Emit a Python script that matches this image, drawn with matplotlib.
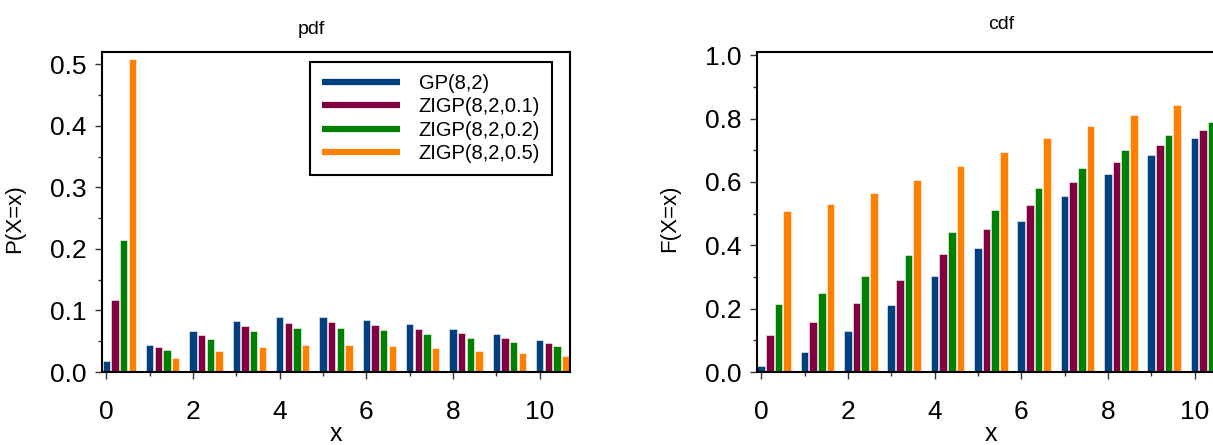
#!/usr/bin/env python3
"""Bar charts of the GP / ZIGP probability and cumulative distribution functions."""

import matplotlib
matplotlib.use("Agg")
import matplotlib.pyplot as plt
import matplotlib.ticker as mticker
from matplotlib.lines import Line2D
import numpy as np

X_VALUES = list(range(11))
SERIES = ["GP(8,2)", "ZIGP(8,2,0.1)", "ZIGP(8,2,0.2)", "ZIGP(8,2,0.5)"]
COLORS = ["#00407f", "#800040", "#008000", "#ff8000"]

PDF_GP = [0.0183, 0.0444, 0.0674, 0.0824, 0.0892, 0.0895, 0.0851, 0.0781, 0.0698, 0.0611, 0.0527]
PDF_ZIGP_01 = [0.1165, 0.0400, 0.0606, 0.0742, 0.0803, 0.0805, 0.0766, 0.0703, 0.0628, 0.0550, 0.0474]
PDF_ZIGP_02 = [0.2147, 0.0355, 0.0539, 0.0659, 0.0714, 0.0716, 0.0681, 0.0625, 0.0558, 0.0489, 0.0422]
PDF_ZIGP_05 = [0.5092, 0.0222, 0.0337, 0.0412, 0.0446, 0.0447, 0.0426, 0.0391, 0.0349, 0.0306, 0.0264]

CDF_GP = [0.0183, 0.0628, 0.1301, 0.2126, 0.3018, 0.3913, 0.4764, 0.5545, 0.6243, 0.6854, 0.7381]
CDF_ZIGP_01 = [0.1165, 0.1565, 0.2171, 0.2913, 0.3716, 0.4522, 0.5288, 0.5991, 0.6619, 0.7169, 0.7643]
CDF_ZIGP_02 = [0.2147, 0.2502, 0.3041, 0.3701, 0.4414, 0.5130, 0.5811, 0.6436, 0.6994, 0.7483, 0.7905]
CDF_ZIGP_05 = [0.5092, 0.5314, 0.5651, 0.6063, 0.6509, 0.6957, 0.7382, 0.7773, 0.8122, 0.8427, 0.8691]

plt.rcParams.update({
    "font.family": ["Liberation Sans", "DejaVu Sans"],
    "axes.linewidth": 1.5,
})

BAR_STEP = 0.2
BAR_WIDTH = 0.175


def draw_bars(ax, series_values):
    x = np.asarray(X_VALUES, dtype=float)
    for i, (vals, color) in enumerate(zip(series_values, COLORS)):
        ax.bar(x + i * BAR_STEP, vals, width=BAR_WIDTH, color=color,
               edgecolor=(1, 1, 1, 0.55), linewidth=0.7, zorder=2)


def style_axes(ax, ylim, ymajor, yminor):
    ax.set_xlim(-0.1, 10.7)
    ax.set_ylim(*ylim)
    ax.xaxis.set_major_locator(mticker.MultipleLocator(2))
    ax.xaxis.set_minor_locator(mticker.MultipleLocator(1))
    ax.yaxis.set_major_locator(mticker.MultipleLocator(ymajor))
    ax.yaxis.set_minor_locator(mticker.MultipleLocator(yminor))
    ax.yaxis.set_major_formatter(mticker.FormatStrFormatter("%.1f"))
    ax.tick_params(axis="both", which="major", direction="out", length=5,
                   width=1.0, color="#333333", labelsize=19, pad=6)
    ax.tick_params(axis="both", which="minor", direction="out", length=3,
                   width=1.0, color="#333333")
    ax.tick_params(axis="x", which="major", pad=15)
    ax.set_xlabel("x", fontsize=18)
    ax.xaxis.set_label_coords(0.5, -0.155)


fig = plt.figure(figsize=(12.13, 4.45), dpi=100)
ax_pdf = fig.add_axes([0.0841, 0.164, 0.3858, 0.719])
ax_cdf = fig.add_axes([0.624, 0.164, 0.3858, 0.719])

draw_bars(ax_pdf, [PDF_GP, PDF_ZIGP_01, PDF_ZIGP_02, PDF_ZIGP_05])
style_axes(ax_pdf, (0, 0.52), 0.1, 0.05)
ax_pdf.set_ylabel("P(X=x)", fontsize=16)
ax_pdf.yaxis.set_label_coords(-0.165, 0.48)
ax_pdf.set_title("pdf", fontsize=14, x=0.447, y=1.058, pad=0)

draw_bars(ax_cdf, [CDF_GP, CDF_ZIGP_01, CDF_ZIGP_02, CDF_ZIGP_05])
style_axes(ax_cdf, (0, 1.01), 0.2, 0.1)
ax_cdf.set_ylabel("F(X=x)", fontsize=16)
ax_cdf.yaxis.set_label_coords(-0.165, 0.48)
ax_cdf.set_title("cdf", fontsize=14, x=0.523, y=1.073, pad=0)

handles = [Line2D([], [], color=c, linewidth=4.5, solid_capstyle="butt") for c in COLORS]
leg = ax_pdf.legend(handles, SERIES, loc="upper right", bbox_to_anchor=(0.9615, 0.97),
                    borderaxespad=0.0, fontsize=14.5, handlelength=3.9,
                    handletextpad=0.9, labelspacing=0.22, borderpad=0.6,
                    fancybox=False, framealpha=1.0, edgecolor="black")
leg.get_frame().set_linewidth(1.5)

fig.savefig("out.png", dpi=100)
